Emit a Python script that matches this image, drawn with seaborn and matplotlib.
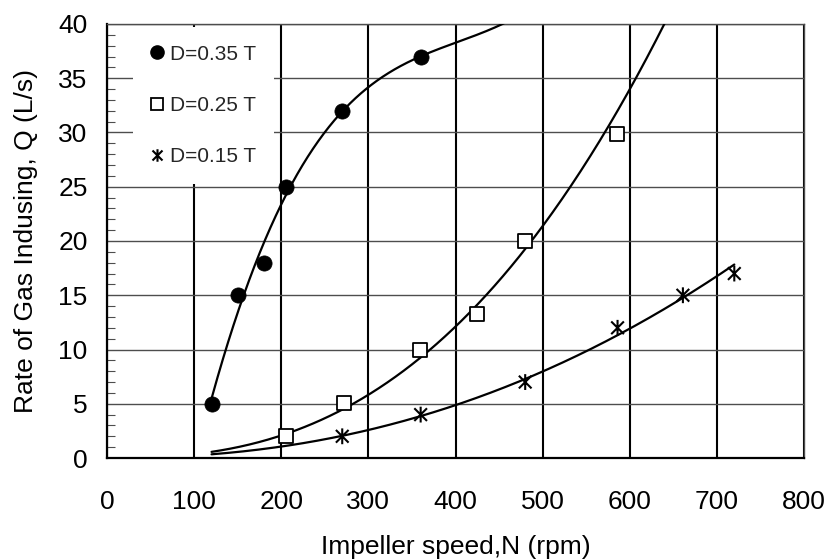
import numpy as np
import pandas as pd
import matplotlib
matplotlib.use("Agg")
import matplotlib.pyplot as plt
from matplotlib.path import Path
from matplotlib.lines import Line2D
from matplotlib.ticker import MultipleLocator
import seaborn as sns

# ---- data ----
n_035 = [120, 150, 180, 206, 270, 360]
q_035 = [5, 15, 18, 25, 32, 37]
n_025 = [206, 272, 359, 425, 480, 585]
q_025 = [2, 5.1, 10, 13.3, 20, 29.9]
n_015 = [270, 360, 480, 586, 661, 720]
q_015 = [2, 4, 7, 12, 15, 17]
labels = ["D=0.35 T", "D=0.25 T", "D=0.15 T"]
x_ticks = [0, 100, 200, 300, 400, 500, 600, 700, 800]
y_ticks = [0, 5, 10, 15, 20, 25, 30, 35, 40]
x_label = "Impeller speed,N (rpm)"
y_label = "Rate of Gas Indusing, Q (L/s)"

sns.set_theme(style="white")
plt.rcParams["font.family"] = ["Liberation Sans", "DejaVu Sans"]

fig = plt.figure(figsize=(8.27, 5.6), dpi=100)
ax = fig.add_axes([107 / 827, 1 - 458 / 560, 697 / 827, 434 / 560])

# ---- trend lines (Excel-style fits from the data) ----
c3 = np.polyfit(n_035, q_035, 3)
xs1 = np.linspace(120, 500, 500)
ys1 = np.polyval(c3, xs1)
m1 = ys1 <= 40.3
b2, a2 = np.polyfit(np.log(n_025), np.log(q_025), 1)
xs2 = np.linspace(120, 660, 400)
ys2 = np.exp(a2) * xs2 ** b2
m2 = ys2 <= 40.3
b3, a3 = np.polyfit(np.log(n_015), np.log(q_015), 1)
xs3 = np.linspace(120, 720, 400)
ys3 = np.exp(a3) * xs3 ** b3

for xs, ys in [(xs1[m1], ys1[m1]), (xs2[m2], ys2[m2]), (xs3, ys3)]:
    sns.lineplot(x=xs, y=ys, ax=ax, color="black", linewidth=1.6,
                 sort=False, estimator=None, zorder=3)

star = Path([(0, -1), (0, 1), (-0.8, -0.8), (0.8, 0.8), (-0.8, 0.8), (0.8, -0.8)],
            [Path.MOVETO, Path.LINETO, Path.MOVETO, Path.LINETO, Path.MOVETO, Path.LINETO])

sns.scatterplot(x=n_035, y=q_035, ax=ax, marker="o", s=120, color="black",
                edgecolor="black", linewidth=0.5, zorder=4)
sns.scatterplot(x=n_025, y=q_025, ax=ax, marker="s", s=115, facecolor="white",
                edgecolor="black", linewidth=1.3, zorder=4)
ax.scatter(n_015, q_015, marker=star, s=130, facecolor="none",
           edgecolor="black", linewidth=1.5, zorder=4)

ax.set_xlim(0, 800)
ax.set_ylim(0, 40)
ax.set_xticks(x_ticks)
ax.set_yticks(y_ticks)
ax.yaxis.set_minor_locator(MultipleLocator(1))

ax.xaxis.grid(True, color="black", linewidth=1.5)
ax.yaxis.grid(True, color="#4d4d4d", linewidth=1.0)
ax.set_axisbelow(True)

for s in ["left", "bottom"]:
    ax.spines[s].set_color("black")
    ax.spines[s].set_linewidth(1.6)
for s in ["top", "right"]:
    ax.spines[s].set_color("#4d4d4d")
    ax.spines[s].set_linewidth(1.0)

ax.tick_params(axis="x", length=0, pad=23, labelsize=19, colors="black")
ax.tick_params(axis="y", which="major", length=0, pad=14, labelsize=19, colors="black")
ax.tick_params(axis="y", which="minor", direction="in", length=6, width=0.8,
               color="#4d4d4d", left=True)

ax.set_xlabel(x_label, fontsize=19, labelpad=15, color="black")
ax.set_ylabel(y_label, fontsize=19, labelpad=14.5, color="black")

handles = [
    Line2D([], [], linestyle="none", marker="o", markersize=9.5, color="black"),
    Line2D([], [], linestyle="none", marker="s", markersize=8.5, markerfacecolor="white",
           markeredgecolor="black", markeredgewidth=1.3),
    Line2D([], [], linestyle="none", marker=star, markersize=9, markerfacecolor="none",
           markeredgecolor="black", markeredgewidth=1.5),
]
leg = ax.legend(handles, labels, loc="upper left", bbox_to_anchor=(0.037, 0.993),
                borderaxespad=0, fontsize=15, frameon=True, facecolor="white",
                edgecolor="none", framealpha=1, fancybox=False, borderpad=0.85,
                handlelength=0.6, handletextpad=0.36, labelspacing=1.54)
leg.set_zorder(5)

fig.savefig("out.png", dpi=100)
